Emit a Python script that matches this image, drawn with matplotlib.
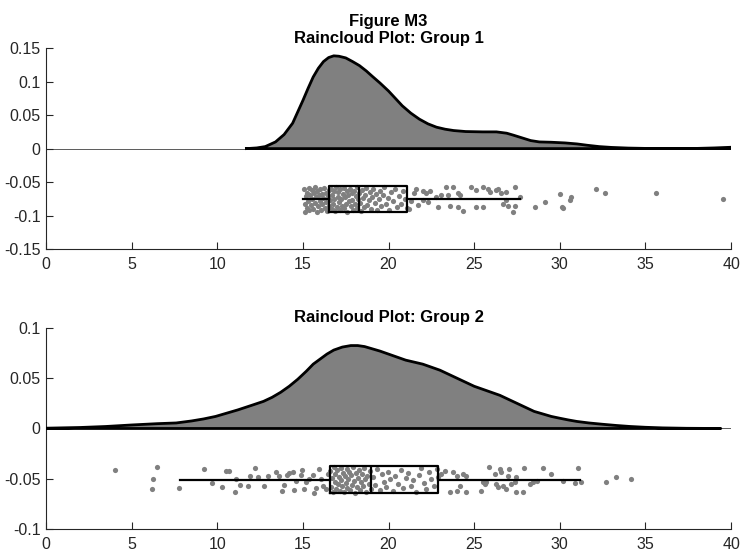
import matplotlib
matplotlib.use("Agg")
import matplotlib.pyplot as plt

plt.rcParams["font.family"] = ["Liberation Sans", "DejaVu Sans"]

# ---- density curves ----
g1_dens_x = [11.7, 12.3, 12.8, 13.4, 13.9, 14.4, 14.7, 15.0, 15.3, 15.6, 15.9, 16.2,
             16.5, 16.8, 17.1, 17.5, 17.9, 18.3, 18.7, 19.05, 19.5, 20.0, 20.4, 20.8,
             21.3, 21.8, 22.3, 22.8, 23.3, 23.8, 24.5, 25.5, 26.3, 26.9, 27.3, 27.8,
             28.3, 28.8, 29.5, 30.3, 31.0, 31.6, 32.3, 33.0, 34.0, 35.0, 36.5, 38.0,
             39.0, 40.0]
g1_dens_y = [0.0, 0.001, 0.003, 0.010, 0.021, 0.038, 0.055, 0.072, 0.090, 0.107, 0.120, 0.130,
             0.136, 0.1386, 0.138, 0.1355, 0.130, 0.124, 0.116, 0.108, 0.098, 0.086, 0.075, 0.064,
             0.053, 0.044, 0.037, 0.032, 0.029, 0.027, 0.0255, 0.025, 0.025, 0.023, 0.020, 0.016,
             0.012, 0.010, 0.0095, 0.0085, 0.007, 0.005, 0.003, 0.0018, 0.0008, 0.0003, 0.0, 0.0003,
             0.001, 0.002]

g2_dens_x = [0.0, 2.0, 3.5, 5.0, 6.5, 7.6, 8.5, 9.2, 9.9, 10.5, 11.2, 12.0, 12.7, 13.2,
             13.7, 14.2, 14.7, 15.2, 15.6, 16.0, 16.4, 16.8, 17.3, 17.8, 18.2, 18.6, 19.0,
             19.5, 20.0, 20.5, 21.0, 21.5, 22.0, 22.5, 23.0, 23.5, 24.0, 24.5, 25.0, 25.5,
             26.0, 26.5, 27.0, 27.5, 28.0, 28.5, 29.0, 29.5, 30.0, 30.5, 31.0, 31.7, 32.5,
             33.3, 34.1, 35.0, 36.0, 37.4, 39.4]
g2_dens_y = [0.0003, 0.001, 0.002, 0.0035, 0.0048, 0.0055, 0.0075, 0.0095, 0.012, 0.015,
             0.0185, 0.023, 0.027, 0.031, 0.036, 0.042, 0.049, 0.057, 0.064, 0.069, 0.074,
             0.078, 0.081, 0.0825, 0.0825, 0.0815, 0.0795, 0.077, 0.074, 0.071, 0.068, 0.066,
             0.064, 0.061, 0.058, 0.054, 0.050, 0.046, 0.042, 0.039, 0.036, 0.033, 0.029,
             0.025, 0.021, 0.017, 0.0145, 0.012, 0.0102, 0.0085, 0.007, 0.0055, 0.0042,
             0.003, 0.002, 0.0012, 0.0006, 0.0002, 0.0]

# ---- raw (jittered) data points ----
g1_x = [15.05, 15.10, 15.12, 15.18, 15.22, 15.25, 15.30, 15.34, 15.38, 15.42, 15.47, 15.52,
        15.55, 15.60, 15.63, 15.68, 15.72, 15.75, 15.80, 15.84, 15.88, 15.92, 15.97, 16.02,
        16.05, 16.10, 16.14, 16.18, 16.23, 16.27, 16.32, 16.36, 16.40, 16.45, 16.50, 16.55,
        16.58, 16.62, 16.67, 16.71, 16.75, 16.80, 16.84, 16.88, 16.93, 16.97, 17.02, 17.06,
        17.10, 17.15, 17.19, 17.24, 17.28, 17.33, 17.37, 17.42, 17.46, 17.51, 17.56, 17.60,
        17.65, 17.70, 17.74, 17.79, 17.84, 17.88, 17.93, 17.98, 18.03, 18.08, 18.13, 18.18,
        18.22, 18.28, 18.34, 18.40, 18.46, 18.52, 18.58, 18.64, 18.70, 18.77, 18.83, 18.90,
        18.97, 19.04, 19.11, 19.18, 19.26, 19.34, 19.42, 19.50, 19.58, 19.67, 19.76, 19.85,
        19.95, 20.05, 20.15, 20.26, 20.37, 20.48, 20.60, 20.72, 20.85, 20.97, 21.08,
        21.2, 21.3, 21.5, 21.6, 21.7,
        22.01, 22.20, 22.40, 22.01, 22.30, 22.79, 23.08, 23.47, 23.37, 23.76, 24.05, 24.15,
        22.88, 23.57, 24.05, 24.35, 24.83, 25.13, 25.52, 25.81, 25.91, 26.30, 26.39, 26.59,
        26.88, 27.37, 26.69, 26.88, 26.98, 25.13, 25.52, 27.27, 27.37, 27.66,
        28.54, 29.12, 30.00, 30.10, 30.19, 30.58, 30.68, 32.14, 32.63, 35.61, 39.51]
g1_y = [-0.060, -0.083, -0.094, -0.071, -0.066, -0.088, -0.078, -0.059, -0.092, -0.069, -0.084, -0.062,
        -0.076, -0.090, -0.067, -0.081, -0.058, -0.073, -0.094, -0.064, -0.086, -0.070, -0.079, -0.061,
        -0.091, -0.068, -0.083, -0.074, -0.059, -0.088, -0.066, -0.080, -0.093, -0.071, -0.062, -0.085,
        -0.077, -0.060, -0.090, -0.069, -0.082, -0.064, -0.075, -0.093, -0.058, -0.087, -0.072, -0.065,
        -0.080, -0.091, -0.061, -0.076, -0.085, -0.068, -0.059, -0.089, -0.073, -0.082, -0.063, -0.094,
        -0.070, -0.079, -0.060, -0.086, -0.067, -0.077, -0.092, -0.063, -0.083, -0.071, -0.058, -0.088,
        -0.075, -0.066, -0.081, -0.093, -0.062, -0.074, -0.087, -0.069, -0.059, -0.084, -0.077, -0.065,
        -0.090, -0.072, -0.061, -0.081, -0.068, -0.092, -0.076, -0.063, -0.086, -0.070, -0.058, -0.082,
        -0.074, -0.091, -0.065, -0.079, -0.060, -0.087, -0.071, -0.083, -0.064, -0.076, -0.089,
        -0.090, -0.078, -0.066, -0.060, -0.084,
        -0.063, -0.067, -0.063, -0.077, -0.080, -0.072, -0.070, -0.070, -0.057, -0.057, -0.066, -0.070,
        -0.087, -0.085, -0.087, -0.093, -0.057, -0.062, -0.057, -0.060, -0.065, -0.062, -0.060, -0.067,
        -0.065, -0.058, -0.082, -0.077, -0.085, -0.087, -0.087, -0.095, -0.085, -0.072,
        -0.087, -0.080, -0.068, -0.087, -0.088, -0.077, -0.073, -0.061, -0.066, -0.066, -0.076]

g2_x = [4.05, 6.48, 6.23, 6.17, 7.78, 9.20, 9.70, 10.27, 10.50, 10.70, 11.10, 11.06,
        11.30, 11.80, 11.90, 12.20, 12.36, 12.74, 12.94, 13.42, 13.62, 13.77, 13.91, 14.05,
        14.20, 14.40, 14.49, 14.59, 14.88, 14.94, 15.08, 15.18, 15.37, 15.56, 15.66, 15.76,
        15.91, 16.05, 16.15, 16.34, 16.44,
        16.60, 16.65, 16.70, 16.76, 16.80, 16.85, 16.90, 16.95, 17.00, 17.05, 17.10, 17.15,
        17.20, 17.25, 17.30, 17.35, 17.40, 17.45, 17.50, 17.55, 17.60, 17.66, 17.71, 17.76,
        17.82, 17.87, 17.92, 17.98, 18.03, 18.09, 18.15, 18.20, 18.26, 18.32, 18.38, 18.44,
        18.50, 18.57, 18.63, 18.70, 18.77, 18.84, 18.91, 18.98, 19.10, 19.22, 19.35, 19.48,
        19.60, 19.72, 19.85, 19.98, 20.10, 20.25, 20.40, 20.55, 20.70, 20.85, 21.00, 21.15,
        21.30, 21.45, 21.60, 21.75, 21.90, 22.05, 22.20, 22.35, 22.50, 22.65, 22.80, 22.90,
        23.08, 23.27, 23.57, 23.76, 24.00, 24.00, 24.15, 24.35, 24.50, 24.54, 25.42, 25.52,
        25.61, 25.71, 25.85, 26.20, 26.30, 26.39, 26.49, 26.59, 26.69, 26.88, 26.98, 27.04,
        27.17, 27.37, 27.43, 27.47, 27.86, 27.91, 28.25, 28.44, 28.64, 29.03, 29.51, 30.19,
        30.88, 31.07, 31.21, 32.69, 33.27, 34.13]
g2_y = [-0.041, -0.038, -0.050, -0.060, -0.059, -0.040, -0.054, -0.058, -0.042, -0.042, -0.050, -0.063,
        -0.056, -0.057, -0.047, -0.039, -0.048, -0.057, -0.047, -0.043, -0.047, -0.062, -0.056, -0.046,
        -0.044, -0.043, -0.061, -0.052, -0.046, -0.041, -0.060, -0.053, -0.050, -0.046, -0.064, -0.059,
        -0.040, -0.050, -0.057, -0.060, -0.045,
        -0.042, -0.058, -0.049, -0.063, -0.038, -0.053, -0.045, -0.060, -0.041, -0.055, -0.048, -0.062,
        -0.039, -0.051, -0.057, -0.044, -0.063, -0.047, -0.054, -0.040, -0.059, -0.050, -0.043, -0.061,
        -0.046, -0.056, -0.038, -0.052, -0.064, -0.044, -0.058, -0.049, -0.041, -0.061, -0.053, -0.045,
        -0.057, -0.039, -0.050, -0.063, -0.047, -0.055, -0.042, -0.060, -0.048, -0.056, -0.040, -0.061,
        -0.045, -0.053, -0.058, -0.043, -0.050, -0.062, -0.047, -0.055, -0.041, -0.059, -0.049, -0.044,
        -0.057, -0.051, -0.063, -0.046, -0.039, -0.054, -0.060, -0.043, -0.050, -0.057, -0.040, -0.048,
        -0.045, -0.042, -0.063, -0.043, -0.047, -0.062, -0.057, -0.045, -0.063, -0.047, -0.062, -0.053,
        -0.055, -0.053, -0.038, -0.045, -0.055, -0.058, -0.040, -0.043, -0.057, -0.060, -0.047, -0.040,
        -0.055, -0.053, -0.063, -0.048, -0.063, -0.039, -0.055, -0.053, -0.052, -0.039, -0.045, -0.052,
        -0.054, -0.039, -0.053, -0.053, -0.048, -0.050]

# ---- box plot summaries ----
g1_box = dict(whislo=15.02, q1=16.54, med=18.25, q3=21.09, whishi=27.66)
g2_box = dict(whislo=7.8, q1=16.6, med=19.0, q3=22.88, whishi=31.2)

groups = [
    ("Figure M3\nRaincloud Plot: Group 1", g1_dens_x, g1_dens_y, g1_x, g1_y, g1_box,
     -0.075, 0.038, [-0.15, -0.1, -0.05, 0, 0.05, 0.1, 0.15],
     ["-0.15", "-0.1", "-0.05", "0", "0.05", "0.1", "0.15"]),
    ("Raincloud Plot: Group 2", g2_dens_x, g2_dens_y, g2_x, g2_y, g2_box,
     -0.051, 0.027, [-0.1, -0.05, 0, 0.05, 0.1],
     ["-0.1", "-0.05", "0", "0.05", "0.1"]),
]

fig = plt.figure(figsize=(7.46, 5.54), dpi=100)
rects = [[0.0617, 0.5505, 0.9183, 0.3625], [0.0617, 0.0451, 0.9183, 0.3629]]
axis_col = "#262626"

for rect, (title, dx, dy, px, py, box, pos, width, yt, ytl) in zip(rects, groups):
    ax = fig.add_axes(rect)
    ax.axhline(0, color="#404040", lw=0.6, zorder=1)
    ax.fill_between(dx, dy, 0, facecolor="#808080", edgecolor="none", zorder=2)
    ax.plot(dx + dx[::-1][:1] + dx[:1], dy + [0, 0], color="black", lw=2.0,
            solid_joinstyle="round", zorder=3)
    ax.scatter(px, py, s=14, color="#808080", linewidths=0, zorder=4)
    stats = dict(box)
    ax.bxp([stats], positions=[pos], widths=[width], orientation="horizontal",
           showcaps=False, showfliers=False, manage_ticks=False,
           boxprops=dict(color="black", lw=1.6),
           whiskerprops=dict(color="black", lw=1.6),
           medianprops=dict(color="black", lw=1.6), zorder=5)

    ax.set_xlim(0, 40)
    ax.set_ylim(yt[0], yt[-1])
    ax.set_xticks([0, 5, 10, 15, 20, 25, 30, 35, 40])
    ax.set_yticks(yt)
    ax.set_yticklabels(ytl)
    for s in ["top", "right"]:
        ax.spines[s].set_visible(False)
    for s in ["left", "bottom"]:
        ax.spines[s].set_color(axis_col)
        ax.spines[s].set_linewidth(0.8)
    ax.tick_params(direction="in", length=5, width=0.8, color=axis_col,
                   labelcolor=axis_col, labelsize=11.5)
    ax.tick_params(axis="x", pad=6)
    ax.tick_params(axis="y", pad=4)
    ax.set_title(title, fontsize=12, fontweight="bold", pad=4, linespacing=1.1)

fig.savefig("out.png", dpi=100)
